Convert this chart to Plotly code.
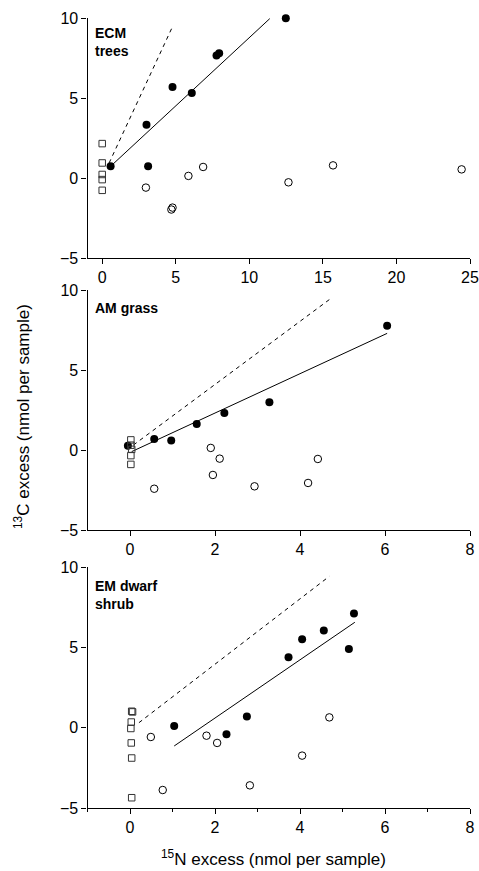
import plotly.graph_objects as go

W, H = 479, 871

# ---------------- data ----------------
# Panel 1: ECM trees
ecm_filled_x = [0.57, 3.01, 3.12, 4.78, 6.09, 7.77, 7.95, 12.48]
ecm_filled_y = [0.73, 3.33, 0.73, 5.69, 5.31, 7.65, 7.79, 9.98]
ecm_open_x = [2.97, 4.78, 4.70, 5.86, 6.86, 12.66, 15.69, 24.43]
ecm_open_y = [-0.60, -1.85, -1.97, 0.13, 0.69, -0.27, 0.79, 0.54]
ecm_sq_x = [0.0, 0.0, 0.0, 0.0, 0.0]
ecm_sq_y = [2.15, 0.94, 0.22, -0.10, -0.77]
ecm_fit_x = [0.57, 11.39]
ecm_fit_y = [0.73, 9.96]
ecm_dash_x = [0.47, 4.82]
ecm_dash_y = [0.94, 9.54]

# Panel 2: AM grass
am_filled_x = [-0.05, 0.57, 0.97, 1.57, 2.22, 3.28, 6.05]
am_filled_y = [0.27, 0.69, 0.60, 1.63, 2.31, 2.98, 7.77]
am_open_x = [0.57, 1.90, 1.95, 2.11, 2.93, 4.19, 4.42]
am_open_y = [-2.42, 0.13, -1.56, -0.54, -2.27, -2.06, -0.56]
am_sq_x = [0.02, 0.02, 0.04, 0.02, 0.02]
am_sq_y = [0.63, 0.30, 0.04, -0.35, -0.90]
am_fit_x = [0.04, 6.05]
am_fit_y = [-0.10, 7.29]
am_dash_x = [0.08, 4.70]
am_dash_y = [0.31, 9.42]

# Panel 3: EM dwarf shrub
em_filled_x = [1.04, 2.27, 2.75, 3.73, 4.05, 4.56, 5.15, 5.27]
em_filled_y = [0.10, -0.41, 0.70, 4.38, 5.50, 6.04, 4.90, 7.10]
em_open_x = [0.49, 0.77, 1.80, 2.05, 2.82, 4.05, 4.69]
em_open_y = [-0.58, -3.88, -0.50, -0.95, -3.59, -1.74, 0.64]
em_sq_x = [0.04, 0.06, 0.03, 0.02, 0.03, 0.04, 0.04]
em_sq_y = [1.02, 0.98, 0.35, -0.05, -0.95, -1.89, -4.36]
em_fit_x = [1.04, 5.29]
em_fit_y = [-1.14, 6.56]
em_dash_x = [0.21, 4.69]
em_dash_y = [0.31, 9.42]

panel_labels = ["ECM<br>trees", "AM grass", "EM dwarf<br>shrub"]
x_ranges = [[-1, 25], [-1, 8], [-1, 8]]
x_ticks = [[0, 5, 10, 15, 20, 25], [0, 2, 4, 6, 8], [0, 2, 4, 6, 8]]
y_ticks = [-5, 0, 5, 10]
x_title = "<sup>15</sup>N excess (nmol per sample)"
y_title = "<sup>13</sup>C excess (nmol per sample)"

panels = [
    (ecm_filled_x, ecm_filled_y, ecm_open_x, ecm_open_y, ecm_sq_x, ecm_sq_y,
     ecm_fit_x, ecm_fit_y, ecm_dash_x, ecm_dash_y),
    (am_filled_x, am_filled_y, am_open_x, am_open_y, am_sq_x, am_sq_y,
     am_fit_x, am_fit_y, am_dash_x, am_dash_y),
    (em_filled_x, em_filled_y, em_open_x, em_open_y, em_sq_x, em_sq_y,
     em_fit_x, em_fit_y, em_dash_x, em_dash_y),
]

# ---------------- layout helpers (screen pixels -> paper) ----------------
def px_x(p):
    return p / W

def px_y(p):
    return 1 - p / H

x_dom = [px_x(87.5), px_x(470)]
y_pix = [(18, 258), (290, 530), (567, 808)]
label_pix = [(93, 23), (93, 298), (93, 576)]

FONT = "Liberation Sans, Arial, Helvetica, sans-serif"

fig = go.Figure()
for i, (fx, fy, ox, oy, sx, sy, lx, ly, dx, dy) in enumerate(panels):
    xa = "x" if i == 0 else f"x{i+1}"
    ya = "y" if i == 0 else f"y{i+1}"
    fig.add_trace(go.Scatter(x=dx, y=dy, mode="lines", xaxis=xa, yaxis=ya,
                             line=dict(color="black", width=1, dash="4px,4px"),
                             showlegend=False, hoverinfo="skip"))
    fig.add_trace(go.Scatter(x=lx, y=ly, mode="lines", xaxis=xa, yaxis=ya,
                             line=dict(color="black", width=1),
                             showlegend=False, hoverinfo="skip"))
    fig.add_trace(go.Scatter(x=ox, y=oy, mode="markers", xaxis=xa, yaxis=ya,
                             cliponaxis=False,
                             marker=dict(symbol="circle-open", size=7.5,
                                         color="black", line=dict(width=1)),
                             showlegend=False))
    fig.add_trace(go.Scatter(x=fx, y=fy, mode="markers", xaxis=xa, yaxis=ya,
                             cliponaxis=False,
                             marker=dict(symbol="circle", size=8,
                                         color="black"),
                             showlegend=False))
    fig.add_trace(go.Scatter(x=sx, y=sy, mode="markers", xaxis=xa, yaxis=ya,
                             cliponaxis=False,
                             marker=dict(symbol="square-open", size=6.5,
                                         color="#333333", line=dict(width=1)),
                             showlegend=False))

axis_common = dict(showline=True, linecolor="black", linewidth=1.2,
                   ticks="outside", ticklen=5, tickwidth=1.2,
                   tickcolor="black", showgrid=False, zeroline=False,
                   automargin=False, ticklabeloverflow="allow",
                   tickfont=dict(family=FONT, size=16, color="black"))

layout = dict(width=W, height=H, margin=dict(l=0, r=0, t=0, b=0),
              plot_bgcolor="white", paper_bgcolor="white",
              font=dict(family=FONT, color="black"), showlegend=False)

for i in range(3):
    xk = "xaxis" if i == 0 else f"xaxis{i+1}"
    yk = "yaxis" if i == 0 else f"yaxis{i+1}"
    ya = "y" if i == 0 else f"y{i+1}"
    xa = "x" if i == 0 else f"x{i+1}"
    top, bot = y_pix[i]
    xaxis = dict(axis_common, domain=x_dom, range=x_ranges[i],
                 tickmode="array", tickvals=x_ticks[i], anchor=ya)
    if i == 2:
        xaxis["minor"] = dict(tickmode="array", tickvals=[-1, 1, 3, 5, 7],
                              ticks="outside", ticklen=3, tickcolor="black",
                              tickwidth=1.2)
    layout[xk] = xaxis
    layout[yk] = dict(axis_common, domain=[px_y(bot), px_y(top)],
                      range=[-5, 10], tickmode="array", tickvals=y_ticks,
                      anchor=xa)

annotations = []
for i, (lxp, lyp) in enumerate(label_pix):
    annotations.append(dict(text="<b>" + panel_labels[i] + "</b>",
                            xref="paper", yref="paper",
                            x=px_x(lxp), y=px_y(lyp), xanchor="left",
                            yanchor="top", showarrow=False, align="left",
                            font=dict(family=FONT, size=14, color="black")))
annotations.append(dict(text=x_title, xref="paper", yref="paper",
                        x=px_x(273), y=px_y(858), xanchor="center",
                        yanchor="middle", showarrow=False,
                        font=dict(family=FONT, size=17, color="black")))
annotations.append(dict(text=y_title, xref="paper", yref="paper",
                        x=px_x(22), y=px_y(417), xanchor="center",
                        yanchor="middle", showarrow=False, textangle=-90,
                        font=dict(family=FONT, size=17, color="black")))
layout["annotations"] = annotations

fig.update_layout(**layout)
fig.write_html(
    "out.html",
    config={"displayModeBar": False},
    post_script="document.body.style.margin='0';"
                "document.body.style.overflow='hidden';",
)
